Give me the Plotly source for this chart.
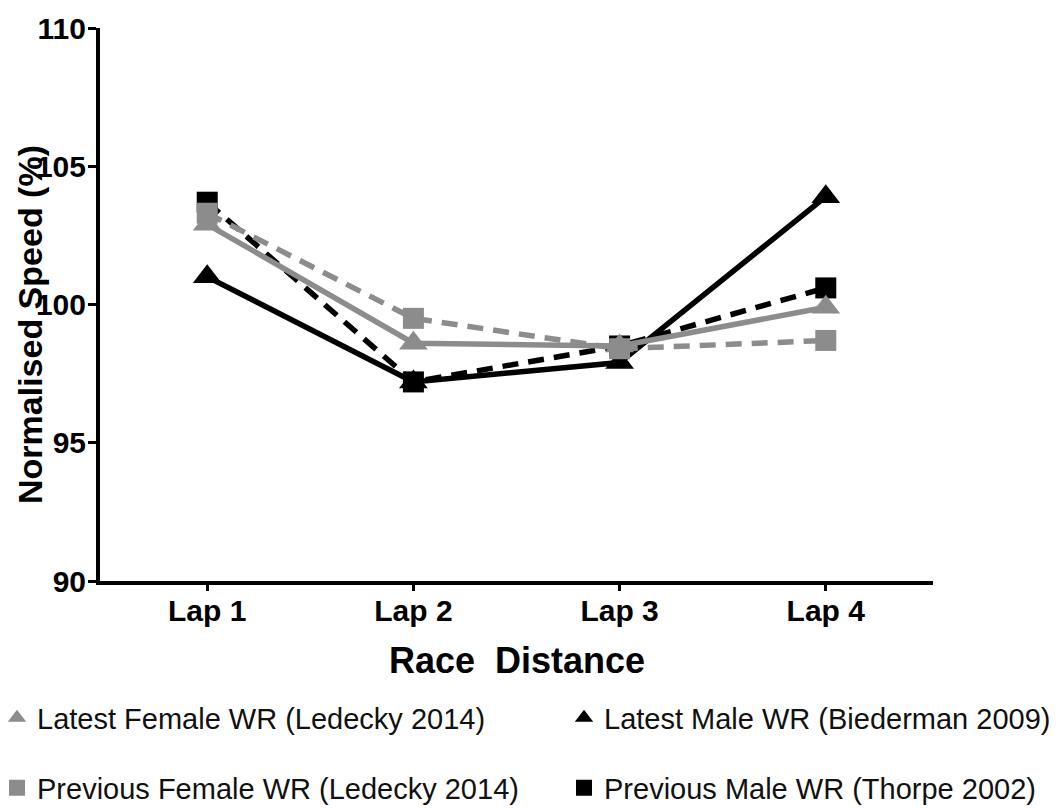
import plotly.graph_objects as go

laps = ["Lap 1", "Lap 2", "Lap 3", "Lap 4"]
latest_female = [102.9, 98.6, 98.5, 99.9]
latest_male = [101.0, 97.2, 97.9, 103.9]
previous_female = [103.3, 99.5, 98.4, 98.7]
previous_male = [103.7, 97.2, 98.5, 100.6]
y_ticks = [90, 95, 100, 105, 110]

name_lf = "Latest Female WR (Ledecky 2014)"
name_lm = "Latest Male WR (Biederman 2009)"
name_pf = "Previous Female WR (Ledecky 2014)"
name_pm = "Previous Male WR (Thorpe 2002)"

GRAY = "#8c8c8c"
BLACK = "#000000"
DASH = "16px,10px"
LW = 5.5

fig = go.Figure()

# data traces (drawing order: black under gray)
fig.add_trace(go.Scatter(x=laps, y=previous_male, mode="lines+markers", name=name_pm,
                         line=dict(color=BLACK, width=LW, dash=DASH),
                         marker=dict(symbol="square", size=21, color=BLACK),
                         showlegend=False))
fig.add_trace(go.Scatter(x=laps, y=latest_male, mode="lines+markers", name=name_lm,
                         line=dict(color=BLACK, width=LW),
                         marker=dict(symbol="triangle-up", size=25, color=BLACK),
                         showlegend=False))
fig.add_trace(go.Scatter(x=laps, y=latest_female, mode="lines+markers", name=name_lf,
                         line=dict(color=GRAY, width=LW),
                         marker=dict(symbol="triangle-up", size=25, color=GRAY),
                         showlegend=False))
fig.add_trace(go.Scatter(x=laps, y=previous_female, mode="lines+markers", name=name_pf,
                         line=dict(color=GRAY, width=LW, dash=DASH),
                         marker=dict(symbol="square", size=21, color=GRAY),
                         showlegend=False))

# page body has an 8px margin; the figure is sized/positioned to compensate
OFF = 8
W, H = 1057 - OFF, 808 - OFF

# plot area in screen pixels: x 100..933, y 28..581
L, T, R, B = 100 - OFF, 28 - OFF, 933 - OFF, 581 - OFF
PW, PH = R - L, B - T

# legend entries (marker only), one legend per entry for exact placement
# lx = screen x where the legend box starts (text begins ~41px right of it)
entries = [
    (name_lf, "triangle-up", GRAY, "legend", -3, 718),
    (name_lm, "triangle-up", BLACK, "legend2", 564, 718),
    (name_pf, "square", GRAY, "legend3", -3, 788),
    (name_pm, "square", BLACK, "legend4", 564, 788),
]
legend_layouts = {}
for nm, sym, col, lg, lx, ly in entries:
    fig.add_trace(go.Scatter(x=[None], y=[None], mode="markers", name=nm,
                             marker=dict(symbol=sym, size=18, color=col),
                             legend=lg, showlegend=True))
    legend_layouts[lg] = dict(orientation="h", xref="paper", yref="container",
                              x=((lx - OFF) - L) / PW, y=1 - (ly - OFF) / H,
                              xanchor="left", yanchor="middle",
                              font=dict(family="Liberation Sans, Arial, sans-serif",
                                        size=29, color="#111111"),
                              bgcolor="rgba(0,0,0,0)", borderwidth=0,
                              itemclick=False, itemdoubleclick=False)

fig.update_layout(
    width=W, height=H,
    margin=dict(l=L, r=W - R, t=T, b=H - B, autoexpand=False),
    paper_bgcolor="white", plot_bgcolor="white",
    font=dict(family="Liberation Sans, Arial, sans-serif", color="black"),
    xaxis=dict(type="category", range=[-0.52, 3.52], showgrid=False, zeroline=False,
               showline=True, linecolor="black", linewidth=4,
               ticks="outside", ticklen=6, tickwidth=3, tickcolor="black",
               ticklabelstandoff=-6,
               tickfont=dict(size=30, weight="bold", color="black"),
               fixedrange=True),
    yaxis=dict(range=[90, 110], tickvals=y_ticks, showgrid=False, zeroline=False,
               showline=True, linecolor="black", linewidth=4,
               ticks="outside", ticklen=8, tickwidth=3, tickcolor="black",
               ticklabelstandoff=-4,
               tickfont=dict(size=30, weight="bold", color="black"),
               fixedrange=True),
    annotations=[
        dict(text="Race  Distance", xref="paper", yref="paper", x=0.5,
             y=(B - (660 - OFF)) / PH,
             xanchor="center", yanchor="middle", showarrow=False,
             font=dict(size=36, weight="bold", color="black")),
        dict(text="Normalised Speed (%)", xref="paper", yref="paper",
             x=((30 - OFF) - L) / PW, y=(B - (325 - OFF)) / PH, textangle=-90,
             xanchor="center", yanchor="middle", showarrow=False,
             font=dict(size=34, weight="bold", color="black")),
    ],
    **legend_layouts,
)

fig.write_html("out.html")
